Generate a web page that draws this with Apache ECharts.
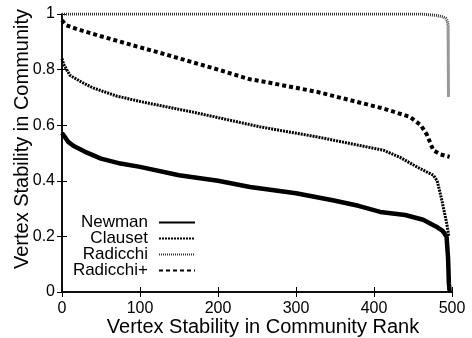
<!DOCTYPE html>
<html><head><meta charset="utf-8">
<script src="https://cdn.jsdelivr.net/npm/echarts@6/dist/echarts.min.js"></script>
<style>html,body{margin:0;padding:0;background:#fff}#c{width:472px;height:338px}</style>
</head><body><div id="c"></div>
<script>
const seriesNames = ['Newman', 'Clauset', 'Radicchi', 'Radicchi+'];
const newmanX = [0,3,8,15,29,50,75,100,150,200,241,300,347,380,408,440,463,480,488,493,495,496,497];
const newmanY = [0.572,0.56,0.54,0.525,0.505,0.48,0.462,0.45,0.42,0.40,0.378,0.355,0.33,0.31,0.288,0.277,0.26,0.235,0.22,0.20,0.12,0.03,0];
const clausetX = [0,2,10,25,40,70,104,168,254,327,412,433,455,476,481,487,493,496];
const clausetY = [0.84,0.82,0.78,0.755,0.734,0.705,0.683,0.647,0.594,0.558,0.51,0.485,0.45,0.42,0.40,0.33,0.25,0.20];
const radicchiX = [0,100,200,300,400,460,480,488,492,494,495,495.5];
const radicchiY = [1,1,1,1,1,1,0.995,0.99,0.985,0.975,0.96,0.70];
const radicchiPX = [0,5,20,50,100,126,200,241,254,327,412,446,460,468,476,485,497];
const radicchiPY = [0.978,0.96,0.945,0.92,0.88,0.86,0.80,0.765,0.759,0.72,0.66,0.63,0.60,0.565,0.51,0.495,0.486];
const xTicks = [0,100,200,300,400,500];
const yTicks = [0,0.2,0.4,0.6,0.8,1];

const zip = (xs, ys) => xs.map((x, i) => [x, ys[i]]);
const font = 'Liberation Sans, Arial, Helvetica, sans-serif';
const styles = [
  {width: 4.5, type: 'solid', color: '#000'},
  {width: 3, type: [2, 1], color: '#000'},
  {width: 3, type: [1, 1], color: '#333'},
  {width: 4, type: [4, 3], color: '#000'}
];
const datas = [zip(newmanX, newmanY), zip(clausetX, clausetY), zip(radicchiX, radicchiY), zip(radicchiPX, radicchiPY)];

const axisCommon = {
  type: 'value',
  axisLine: {show: true, lineStyle: {color: '#000', width: 1.5}},
  axisTick: {show: true, inside: true, length: 5, lineStyle: {color: '#000', width: 1}},
  splitLine: {show: false}
};
const chart = echarts.init(document.getElementById('c'));
chart.setOption({
  animation: false,
  grid: {left: 62, right: 20, top: 14, bottom: 46, containLabel: false, outerBoundsMode: 'none'},
  xAxis: [
    Object.assign({}, axisCommon, {min: 0, max: 500, interval: 100, position: 'bottom',
      name: 'Vertex Stability in Community Rank', nameLocation: 'middle', nameGap: 25, nameMoveOverlap: false,
      nameTextStyle: {fontFamily: font, fontSize: 20, color: '#000', padding: [0, 0, 0, 12]},
      axisLabel: {fontFamily: font, fontSize: 16, color: '#000', margin: 9,
        formatter: v => xTicks.includes(v) ? String(v) : ''}}),
    Object.assign({}, axisCommon, {min: 0, max: 500, interval: 100, position: 'top', axisLabel: {show: false}})
  ],
  yAxis: [
    Object.assign({}, axisCommon, {min: 0, max: 1, interval: 0.2, position: 'left',
      name: 'Vertex Stability in Community', nameLocation: 'middle', nameGap: 30, nameMoveOverlap: false,
      nameTextStyle: {fontFamily: font, fontSize: 20, color: '#000', padding: [0, 0, 0, 28]},
      axisLabel: {fontFamily: font, fontSize: 16, color: '#000', margin: 7,
        formatter: v => { const t = yTicks.find(y => Math.abs(y - v) < 1e-6); return t === undefined ? '' : String(t); }}}),
    Object.assign({}, axisCommon, {min: 0, max: 1, interval: 0.2, position: 'right', axisLabel: {show: false}})
  ],
  legend: seriesNames.map((n, i) => ({
    data: [n], right: 276, top: 214 + i * 16, itemWidth: 36, itemHeight: 12, itemGap: 0,
    align: 'right', padding: 0, selectedMode: false,
    itemStyle: {opacity: 0},
    textStyle: {fontFamily: font, fontSize: 17, color: '#000', padding: [0, 6, 0, 0]}
  })),
  series: seriesNames.map((n, i) => ({
    name: n, type: 'line', data: datas[i], showSymbol: false, symbol: 'none',
    lineStyle: styles[i], itemStyle: {color: styles[i].color}, z: 10 - i
  }))
});
</script></body></html>
